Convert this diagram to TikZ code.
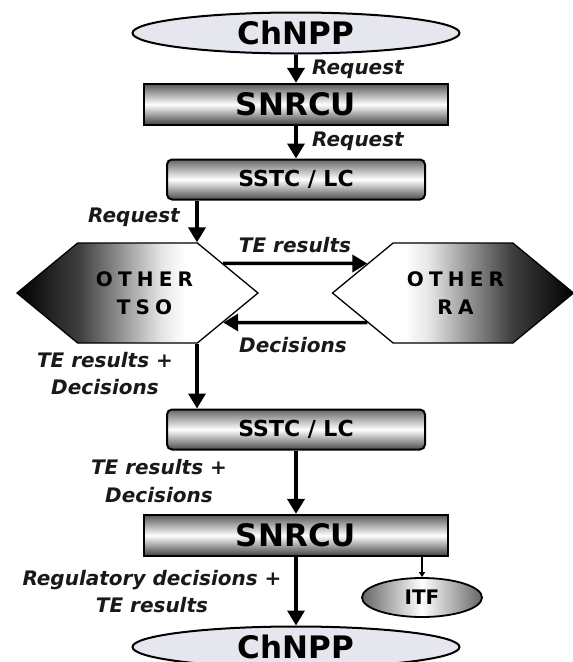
\documentclass[tikz,border=0pt]{standalone}
\usepackage{fontspec}
\setmainfont{DejaVu Sans}[BoldFont={DejaVu Sans Bold},ItalicFont={DejaVu Sans Oblique},BoldItalicFont={DejaVu Sans Bold Oblique}]
\newfontfamily\spacedfont{DejaVu Sans Bold}[LetterSpace=26]
\usepackage{tikz}
\usetikzlibrary{shapes.geometric,shapes.symbols,arrows.meta}

\definecolor{plantfill}{HTML}{E6E7EE}
\pgfdeclarehorizontalshading{tsoshade}{100bp}{color(0bp)=(black); color(25bp)=(black); color(38bp)=(black!75); color(55bp)=(black!10); color(60bp)=(white); color(100bp)=(white)}
\pgfdeclarehorizontalshading{rashade}{100bp}{color(0bp)=(white); color(40bp)=(white); color(45bp)=(black!10); color(62bp)=(black!75); color(75bp)=(black); color(100bp)=(black)}

\begin{document}
\begin{tikzpicture}[x=1pt,y=-1pt,
    plant/.style={ellipse, draw, line width=2pt, fill=plantfill, minimum width=327pt, minimum height=41pt, inner sep=0pt, font=\fontsize{31}{31}\selectfont\bfseries},
    regbox/.style={rectangle, draw, line width=2.2pt, top color=black!65, bottom color=black!75, middle color=white, minimum width=304pt, minimum height=41pt, inner sep=0pt, font=\fontsize{31}{31}\selectfont\bfseries},
    centrebox/.style={rectangle, rounded corners=5pt, draw, line width=2pt, top color=black!60, bottom color=black!70, middle color=white, minimum width=258pt, minimum height=40pt, inner sep=0pt, font=\fontsize{22}{22}\selectfont\bfseries},
    hexa/.style={signal, signal to=west and east, signal pointer angle=79, draw, line width=1.3pt, shade, minimum width=241pt, minimum height=100pt, inner sep=0pt, align=center, font=\fontsize{20}{28}\spacedfont},
    itfnode/.style={ellipse, draw, line width=1.8pt, left color=black!60, right color=black!60, middle color=white, minimum width=120pt, minimum height=39pt, inner sep=0pt, font=\fontsize{20}{20}\selectfont\bfseries},
    lbl/.style={inner sep=0pt, align=center, text=black!90, font=\fontsize{20}{27.5}\selectfont\bfseries\itshape},
    arr/.style={-{Triangle[width=17pt,length=15pt]}, line width=3.5pt},
    thinarr/.style={-{Triangle[width=6pt,length=5pt]}, line width=1.3pt}]
    \clip (0,0) rectangle (573,662);
    \node[plant] (plantTop) at (296,33) {ChNPP};
    \node[regbox] (snrcuTop) at (296,104.5) {SNRCU};
    \node[centrebox] (sstcTop) at (296,179.5) {SSTC / LC};
    \node[hexa, shading=tsoshade] (tso) at (137.5,293) {\kern14pt OTHER\\\kern14pt TSO};
    \node[hexa, shading=rashade] (ra) at (453,293) {\kern5pt OTHER\\\kern5pt RA};
    \node[centrebox] (sstcBot) at (296,429.5) {SSTC / LC};
    \node[regbox] (snrcuBot) at (296,535.5) {SNRCU};
    \node[itfnode] (itf) at (422,597.5) {ITF};
    \node[plant] (plantBot) at (296,647) {ChNPP};
    \coordinate (tsoTop) at ([xshift=59.5pt]tso.north);
    \coordinate (tsoFoot) at ([xshift=59.5pt]tso.south);
    \draw[arr] (plantTop) -- (snrcuTop);
    \draw[arr] (snrcuTop) -- (sstcTop);
    \draw[arr] (sstcTop.south -| tsoTop) -- (tsoTop);
    \draw[arr] (tso.19) -- (ra.161);
    \draw[arr] (ra.-161) -- (tso.-19);
    \draw[arr] (tsoFoot) -- (tsoFoot |- sstcBot.north);
    \draw[arr] (sstcBot) -- (snrcuBot);
    \draw[arr] (snrcuBot) -- (plantBot);
    \draw[thinarr] (snrcuBot.south -| itf.north) -- (itf.north);
    \node[lbl, anchor=base west] (reqA) at (312,74) {Request};
    \node[lbl, anchor=base west] (reqB) at (312,146) {Request};
    \node[lbl, anchor=base west] (reqC) at (88,222) {Request};
    \node[lbl, anchor=base] (resTE) at (295,252) {TE results};
    \node[lbl, anchor=base] (decRA) at (293,352) {Decisions};
    \node[lbl] (outTSO) at (105,373.5) {TE results +\\Decisions};
    \node[lbl] (outSSTC) at (159,481) {TE results +\\Decisions};
    \node[lbl] (outSNRCU) at (152,591.5) {Regulatory decisions +\\TE results};
\end{tikzpicture}
\end{document}
